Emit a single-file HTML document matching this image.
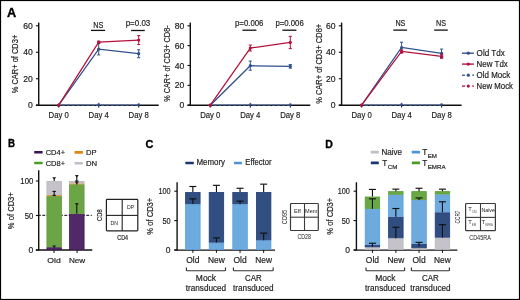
<!DOCTYPE html>
<html><head><meta charset="utf-8"><style>
html,body{margin:0;padding:0;background:#fff;}
body{width:520px;height:300px;overflow:hidden;}
svg{display:block;font-family:"Liberation Sans", sans-serif;will-change:transform;}
</style></head><body>
<svg width="520" height="300" viewBox="0 0 520 300">
<rect x="0" y="0" width="520" height="300" fill="#fff"/>
<text x="11.6" y="16.6" font-size="12" text-anchor="middle" fill="#000" font-weight="bold" textLength="9.2" lengthAdjust="spacingAndGlyphs" stroke="#000" stroke-width="0.35" stroke-linejoin="round">A</text>
<text transform="translate(18.0,64.0) rotate(-90)" x="0" y="0" font-size="8.6" text-anchor="middle" fill="#222" stroke="#222" stroke-width="0.18" textLength="58.5" lengthAdjust="spacingAndGlyphs">% CAR+ of CD3+</text>
<line x1="38.7" y1="22.6" x2="38.7" y2="105.9" stroke="#111" stroke-width="1.45" />
<line x1="35.900000000000006" y1="105.2" x2="158.7" y2="105.2" stroke="#111" stroke-width="1.45" />
<line x1="35.900000000000006" y1="105.2" x2="38.7" y2="105.2" stroke="#111" stroke-width="1.1" />
<text x="32.7" y="108.2" font-size="8.6" text-anchor="end" fill="#222" font-weight="normal" stroke="#222" stroke-width="0.18" stroke-linejoin="round">0</text>
<line x1="35.900000000000006" y1="78.73333333333333" x2="38.7" y2="78.73333333333333" stroke="#111" stroke-width="1.1" />
<text x="32.7" y="81.73333333333333" font-size="8.6" text-anchor="end" fill="#222" font-weight="normal" stroke="#222" stroke-width="0.18" stroke-linejoin="round">20</text>
<line x1="35.900000000000006" y1="52.266666666666666" x2="38.7" y2="52.266666666666666" stroke="#111" stroke-width="1.1" />
<text x="32.7" y="55.266666666666666" font-size="8.6" text-anchor="end" fill="#222" font-weight="normal" stroke="#222" stroke-width="0.18" stroke-linejoin="round">40</text>
<line x1="35.900000000000006" y1="25.799999999999997" x2="38.7" y2="25.799999999999997" stroke="#111" stroke-width="1.1" />
<text x="32.7" y="28.799999999999997" font-size="8.6" text-anchor="end" fill="#222" font-weight="normal" stroke="#222" stroke-width="0.18" stroke-linejoin="round">60</text>
<line x1="58.7" y1="105.2" x2="58.7" y2="107.60000000000001" stroke="#111" stroke-width="1.1" />
<text x="58.7" y="117.7" font-size="8.8" text-anchor="middle" fill="#222" font-weight="normal" textLength="20.2" lengthAdjust="spacingAndGlyphs" stroke="#222" stroke-width="0.18" stroke-linejoin="round">Day 0</text>
<line x1="98.7" y1="105.2" x2="98.7" y2="107.60000000000001" stroke="#111" stroke-width="1.1" />
<text x="98.7" y="117.7" font-size="8.8" text-anchor="middle" fill="#222" font-weight="normal" textLength="20.2" lengthAdjust="spacingAndGlyphs" stroke="#222" stroke-width="0.18" stroke-linejoin="round">Day 4</text>
<line x1="138.7" y1="105.2" x2="138.7" y2="107.60000000000001" stroke="#111" stroke-width="1.1" />
<text x="138.7" y="117.7" font-size="8.8" text-anchor="middle" fill="#222" font-weight="normal" textLength="20.2" lengthAdjust="spacingAndGlyphs" stroke="#222" stroke-width="0.18" stroke-linejoin="round">Day 8</text>
<line x1="61.7" y1="105.10000000000001" x2="138.7" y2="105.10000000000001" stroke="#3f63a6" stroke-width="1.1" stroke-dasharray="3.3,1.6"/>
<circle cx="98.7" cy="104.60000000000001" r="1.3" fill="#30508d"/>
<circle cx="138.7" cy="104.60000000000001" r="1.3" fill="#30508d"/>
<line x1="98.7" y1="102.8" x2="98.7" y2="105.2" stroke="#30508d" stroke-width="0.9" />
<polyline points="58.7,105.20 98.7,49.22 138.7,53.72" fill="none" stroke="#30508d" stroke-width="1.25"/>
<circle cx="58.7" cy="105.20" r="1.6" fill="#30508d"/>
<line x1="98.7" y1="43.53266666666667" x2="98.7" y2="54.913333333333334" stroke="#30508d" stroke-width="1.0" />
<line x1="97.10000000000001" y1="43.53266666666667" x2="100.3" y2="43.53266666666667" stroke="#30508d" stroke-width="1.0" />
<line x1="97.10000000000001" y1="54.913333333333334" x2="100.3" y2="54.913333333333334" stroke="#30508d" stroke-width="1.0" />
<circle cx="98.7" cy="49.22" r="1.6" fill="#30508d"/>
<line x1="138.7" y1="49.75233333333333" x2="138.7" y2="57.69233333333333" stroke="#30508d" stroke-width="1.0" />
<line x1="137.1" y1="49.75233333333333" x2="140.29999999999998" y2="49.75233333333333" stroke="#30508d" stroke-width="1.0" />
<line x1="137.1" y1="57.69233333333333" x2="140.29999999999998" y2="57.69233333333333" stroke="#30508d" stroke-width="1.0" />
<circle cx="138.7" cy="53.72" r="1.6" fill="#30508d"/>
<polyline points="58.7,105.20 98.7,42.21 138.7,40.09" fill="none" stroke="#b3123d" stroke-width="1.25"/>
<circle cx="58.7" cy="105.20" r="1.6" fill="#b3123d"/>
<line x1="98.7" y1="41.150666666666666" x2="98.7" y2="43.267999999999994" stroke="#b3123d" stroke-width="1.0" />
<line x1="97.10000000000001" y1="41.150666666666666" x2="100.3" y2="41.150666666666666" stroke="#b3123d" stroke-width="1.0" />
<line x1="97.10000000000001" y1="43.267999999999994" x2="100.3" y2="43.267999999999994" stroke="#b3123d" stroke-width="1.0" />
<circle cx="98.7" cy="42.21" r="1.6" fill="#b3123d"/>
<line x1="138.7" y1="35.59266666666666" x2="138.7" y2="44.591333333333324" stroke="#b3123d" stroke-width="1.0" />
<line x1="137.1" y1="35.59266666666666" x2="140.29999999999998" y2="35.59266666666666" stroke="#b3123d" stroke-width="1.0" />
<line x1="137.1" y1="44.591333333333324" x2="140.29999999999998" y2="44.591333333333324" stroke="#b3123d" stroke-width="1.0" />
<circle cx="138.7" cy="40.09" r="1.6" fill="#b3123d"/>
<text x="98.4" y="28.0" font-size="8.4" text-anchor="middle" fill="#222" font-weight="normal" textLength="10.2" lengthAdjust="spacingAndGlyphs" stroke="#222" stroke-width="0.18" stroke-linejoin="round">NS</text>
<line x1="91.0" y1="30.4" x2="105.1" y2="30.4" stroke="#111" stroke-width="1.3" />
<text x="138.0" y="25.8" font-size="8.4" text-anchor="middle" fill="#222" font-weight="normal" textLength="24.6" lengthAdjust="spacingAndGlyphs" stroke="#222" stroke-width="0.18" stroke-linejoin="round">p=0.03</text>
<line x1="131.1" y1="30.5" x2="144.8" y2="30.5" stroke="#111" stroke-width="1.3" />
<text transform="translate(170.0,63.6) rotate(-90)" x="0" y="0" font-size="8.6" text-anchor="middle" fill="#222" stroke="#222" stroke-width="0.18" textLength="76.5" lengthAdjust="spacingAndGlyphs">% CAR+ of CD3+ CD8-</text>
<line x1="190.3" y1="22.6" x2="190.3" y2="105.9" stroke="#111" stroke-width="1.45" />
<line x1="187.5" y1="105.2" x2="310.3" y2="105.2" stroke="#111" stroke-width="1.45" />
<line x1="187.5" y1="105.2" x2="190.3" y2="105.2" stroke="#111" stroke-width="1.1" />
<text x="184.3" y="108.2" font-size="8.6" text-anchor="end" fill="#222" font-weight="normal" stroke="#222" stroke-width="0.18" stroke-linejoin="round">0</text>
<line x1="187.5" y1="85.35" x2="190.3" y2="85.35" stroke="#111" stroke-width="1.1" />
<text x="184.3" y="88.35" font-size="8.6" text-anchor="end" fill="#222" font-weight="normal" stroke="#222" stroke-width="0.18" stroke-linejoin="round">20</text>
<line x1="187.5" y1="65.5" x2="190.3" y2="65.5" stroke="#111" stroke-width="1.1" />
<text x="184.3" y="68.5" font-size="8.6" text-anchor="end" fill="#222" font-weight="normal" stroke="#222" stroke-width="0.18" stroke-linejoin="round">40</text>
<line x1="187.5" y1="45.65" x2="190.3" y2="45.65" stroke="#111" stroke-width="1.1" />
<text x="184.3" y="48.65" font-size="8.6" text-anchor="end" fill="#222" font-weight="normal" stroke="#222" stroke-width="0.18" stroke-linejoin="round">60</text>
<line x1="187.5" y1="25.799999999999997" x2="190.3" y2="25.799999999999997" stroke="#111" stroke-width="1.1" />
<text x="184.3" y="28.799999999999997" font-size="8.6" text-anchor="end" fill="#222" font-weight="normal" stroke="#222" stroke-width="0.18" stroke-linejoin="round">80</text>
<line x1="210.3" y1="105.2" x2="210.3" y2="107.60000000000001" stroke="#111" stroke-width="1.1" />
<text x="210.3" y="117.7" font-size="8.8" text-anchor="middle" fill="#222" font-weight="normal" textLength="20.2" lengthAdjust="spacingAndGlyphs" stroke="#222" stroke-width="0.18" stroke-linejoin="round">Day 0</text>
<line x1="250.3" y1="105.2" x2="250.3" y2="107.60000000000001" stroke="#111" stroke-width="1.1" />
<text x="250.3" y="117.7" font-size="8.8" text-anchor="middle" fill="#222" font-weight="normal" textLength="20.2" lengthAdjust="spacingAndGlyphs" stroke="#222" stroke-width="0.18" stroke-linejoin="round">Day 4</text>
<line x1="290.3" y1="105.2" x2="290.3" y2="107.60000000000001" stroke="#111" stroke-width="1.1" />
<text x="290.3" y="117.7" font-size="8.8" text-anchor="middle" fill="#222" font-weight="normal" textLength="20.2" lengthAdjust="spacingAndGlyphs" stroke="#222" stroke-width="0.18" stroke-linejoin="round">Day 8</text>
<line x1="213.3" y1="105.10000000000001" x2="290.3" y2="105.10000000000001" stroke="#3f63a6" stroke-width="1.1" stroke-dasharray="3.3,1.6"/>
<circle cx="250.3" cy="104.60000000000001" r="1.3" fill="#30508d"/>
<circle cx="290.3" cy="104.60000000000001" r="1.3" fill="#30508d"/>
<line x1="250.3" y1="102.8" x2="250.3" y2="105.2" stroke="#30508d" stroke-width="0.9" />
<polyline points="210.3,105.20 250.3,65.70 290.3,66.39" fill="none" stroke="#30508d" stroke-width="1.25"/>
<circle cx="210.3" cy="105.20" r="1.6" fill="#30508d"/>
<line x1="250.3" y1="61.133" x2="250.3" y2="70.26400000000001" stroke="#30508d" stroke-width="1.0" />
<line x1="248.70000000000002" y1="61.133" x2="251.9" y2="61.133" stroke="#30508d" stroke-width="1.0" />
<line x1="248.70000000000002" y1="70.26400000000001" x2="251.9" y2="70.26400000000001" stroke="#30508d" stroke-width="1.0" />
<circle cx="250.3" cy="65.70" r="1.6" fill="#30508d"/>
<line x1="290.3" y1="64.60675" x2="290.3" y2="68.17975" stroke="#30508d" stroke-width="1.0" />
<line x1="288.7" y1="64.60675" x2="291.90000000000003" y2="64.60675" stroke="#30508d" stroke-width="1.0" />
<line x1="288.7" y1="68.17975" x2="291.90000000000003" y2="68.17975" stroke="#30508d" stroke-width="1.0" />
<circle cx="290.3" cy="66.39" r="1.6" fill="#30508d"/>
<polyline points="210.3,105.20 250.3,48.03 290.3,42.47" fill="none" stroke="#b3123d" stroke-width="1.25"/>
<circle cx="210.3" cy="105.20" r="1.6" fill="#b3123d"/>
<line x1="250.3" y1="45.0545" x2="250.3" y2="51.009499999999996" stroke="#b3123d" stroke-width="1.0" />
<line x1="248.70000000000002" y1="45.0545" x2="251.9" y2="45.0545" stroke="#b3123d" stroke-width="1.0" />
<line x1="248.70000000000002" y1="51.009499999999996" x2="251.9" y2="51.009499999999996" stroke="#b3123d" stroke-width="1.0" />
<circle cx="250.3" cy="48.03" r="1.6" fill="#b3123d"/>
<line x1="290.3" y1="36.320499999999996" x2="290.3" y2="48.6275" stroke="#b3123d" stroke-width="1.0" />
<line x1="288.7" y1="36.320499999999996" x2="291.90000000000003" y2="36.320499999999996" stroke="#b3123d" stroke-width="1.0" />
<line x1="288.7" y1="48.6275" x2="291.90000000000003" y2="48.6275" stroke="#b3123d" stroke-width="1.0" />
<circle cx="290.3" cy="42.47" r="1.6" fill="#b3123d"/>
<text x="249.2" y="25.8" font-size="8.4" text-anchor="middle" fill="#222" font-weight="normal" textLength="28.4" lengthAdjust="spacingAndGlyphs" stroke="#222" stroke-width="0.18" stroke-linejoin="round">p=0.006</text>
<line x1="242.4" y1="30.2" x2="256.4" y2="30.2" stroke="#111" stroke-width="1.3" />
<text x="289.6" y="25.8" font-size="8.4" text-anchor="middle" fill="#222" font-weight="normal" textLength="28.4" lengthAdjust="spacingAndGlyphs" stroke="#222" stroke-width="0.18" stroke-linejoin="round">p=0.006</text>
<line x1="282.4" y1="30.2" x2="296.4" y2="30.2" stroke="#111" stroke-width="1.3" />
<text transform="translate(321.6,63.8) rotate(-90)" x="0" y="0" font-size="8.6" text-anchor="middle" fill="#222" stroke="#222" stroke-width="0.18" textLength="80" lengthAdjust="spacingAndGlyphs">% CAR+ of CD3+ CD8+</text>
<line x1="341.6" y1="22.6" x2="341.6" y2="105.9" stroke="#111" stroke-width="1.45" />
<line x1="338.8" y1="105.2" x2="461.6" y2="105.2" stroke="#111" stroke-width="1.45" />
<line x1="338.8" y1="105.2" x2="341.6" y2="105.2" stroke="#111" stroke-width="1.1" />
<text x="335.6" y="108.2" font-size="8.6" text-anchor="end" fill="#222" font-weight="normal" stroke="#222" stroke-width="0.18" stroke-linejoin="round">0</text>
<line x1="338.8" y1="78.73333333333333" x2="341.6" y2="78.73333333333333" stroke="#111" stroke-width="1.1" />
<text x="335.6" y="81.73333333333333" font-size="8.6" text-anchor="end" fill="#222" font-weight="normal" stroke="#222" stroke-width="0.18" stroke-linejoin="round">20</text>
<line x1="338.8" y1="52.266666666666666" x2="341.6" y2="52.266666666666666" stroke="#111" stroke-width="1.1" />
<text x="335.6" y="55.266666666666666" font-size="8.6" text-anchor="end" fill="#222" font-weight="normal" stroke="#222" stroke-width="0.18" stroke-linejoin="round">40</text>
<line x1="338.8" y1="25.799999999999997" x2="341.6" y2="25.799999999999997" stroke="#111" stroke-width="1.1" />
<text x="335.6" y="28.799999999999997" font-size="8.6" text-anchor="end" fill="#222" font-weight="normal" stroke="#222" stroke-width="0.18" stroke-linejoin="round">60</text>
<line x1="361.6" y1="105.2" x2="361.6" y2="107.60000000000001" stroke="#111" stroke-width="1.1" />
<text x="361.6" y="117.7" font-size="8.8" text-anchor="middle" fill="#222" font-weight="normal" textLength="20.2" lengthAdjust="spacingAndGlyphs" stroke="#222" stroke-width="0.18" stroke-linejoin="round">Day 0</text>
<line x1="401.6" y1="105.2" x2="401.6" y2="107.60000000000001" stroke="#111" stroke-width="1.1" />
<text x="401.6" y="117.7" font-size="8.8" text-anchor="middle" fill="#222" font-weight="normal" textLength="20.2" lengthAdjust="spacingAndGlyphs" stroke="#222" stroke-width="0.18" stroke-linejoin="round">Day 4</text>
<line x1="441.6" y1="105.2" x2="441.6" y2="107.60000000000001" stroke="#111" stroke-width="1.1" />
<text x="441.6" y="117.7" font-size="8.8" text-anchor="middle" fill="#222" font-weight="normal" textLength="20.2" lengthAdjust="spacingAndGlyphs" stroke="#222" stroke-width="0.18" stroke-linejoin="round">Day 8</text>
<line x1="364.6" y1="105.10000000000001" x2="441.6" y2="105.10000000000001" stroke="#3f63a6" stroke-width="1.1" stroke-dasharray="3.3,1.6"/>
<circle cx="401.6" cy="104.60000000000001" r="1.3" fill="#30508d"/>
<circle cx="441.6" cy="104.60000000000001" r="1.3" fill="#30508d"/>
<line x1="401.6" y1="102.8" x2="401.6" y2="105.2" stroke="#30508d" stroke-width="0.9" />
<polyline points="361.6,105.20 401.6,47.50 441.6,53.33" fill="none" stroke="#30508d" stroke-width="1.25"/>
<circle cx="361.6" cy="105.20" r="1.6" fill="#30508d"/>
<line x1="401.6" y1="42.209333333333326" x2="401.6" y2="52.79599999999999" stroke="#30508d" stroke-width="1.0" />
<line x1="400.0" y1="42.209333333333326" x2="403.20000000000005" y2="42.209333333333326" stroke="#30508d" stroke-width="1.0" />
<line x1="400.0" y1="52.79599999999999" x2="403.20000000000005" y2="52.79599999999999" stroke="#30508d" stroke-width="1.0" />
<circle cx="401.6" cy="47.50" r="1.6" fill="#30508d"/>
<line x1="441.6" y1="49.09066666666666" x2="441.6" y2="57.559999999999995" stroke="#30508d" stroke-width="1.0" />
<line x1="440.0" y1="49.09066666666666" x2="443.20000000000005" y2="49.09066666666666" stroke="#30508d" stroke-width="1.0" />
<line x1="440.0" y1="57.559999999999995" x2="443.20000000000005" y2="57.559999999999995" stroke="#30508d" stroke-width="1.0" />
<circle cx="441.6" cy="53.33" r="1.6" fill="#30508d"/>
<polyline points="361.6,105.20 401.6,51.47 441.6,56.37" fill="none" stroke="#b3123d" stroke-width="1.25"/>
<circle cx="361.6" cy="105.20" r="1.6" fill="#b3123d"/>
<line x1="401.6" y1="49.88466666666666" x2="401.6" y2="53.06066666666666" stroke="#b3123d" stroke-width="1.0" />
<line x1="400.0" y1="49.88466666666666" x2="403.20000000000005" y2="49.88466666666666" stroke="#b3123d" stroke-width="1.0" />
<line x1="400.0" y1="53.06066666666666" x2="403.20000000000005" y2="53.06066666666666" stroke="#b3123d" stroke-width="1.0" />
<circle cx="401.6" cy="51.47" r="1.6" fill="#b3123d"/>
<line x1="441.6" y1="54.384" x2="441.6" y2="58.354" stroke="#b3123d" stroke-width="1.0" />
<line x1="440.0" y1="54.384" x2="443.20000000000005" y2="54.384" stroke="#b3123d" stroke-width="1.0" />
<line x1="440.0" y1="58.354" x2="443.20000000000005" y2="58.354" stroke="#b3123d" stroke-width="1.0" />
<circle cx="441.6" cy="56.37" r="1.6" fill="#b3123d"/>
<text x="400.4" y="25.6" font-size="8.4" text-anchor="middle" fill="#222" font-weight="normal" textLength="10.0" lengthAdjust="spacingAndGlyphs" stroke="#222" stroke-width="0.18" stroke-linejoin="round">NS</text>
<line x1="393.3" y1="30.1" x2="407.1" y2="30.1" stroke="#111" stroke-width="1.3" />
<text x="441.0" y="25.6" font-size="8.4" text-anchor="middle" fill="#222" font-weight="normal" textLength="10.0" lengthAdjust="spacingAndGlyphs" stroke="#222" stroke-width="0.18" stroke-linejoin="round">NS</text>
<line x1="434.2" y1="30.1" x2="447.8" y2="30.1" stroke="#111" stroke-width="1.3" />
<line x1="462" y1="53.2" x2="473.8" y2="53.2" stroke="#30508d" stroke-width="1.4" />
<circle cx="468.3" cy="53.2" r="1.6" fill="#30508d"/>
<text x="476.6" y="55.800000000000004" font-size="8.4" text-anchor="start" fill="#222" font-weight="normal" textLength="28.2" lengthAdjust="spacingAndGlyphs" stroke="#222" stroke-width="0.18" stroke-linejoin="round">Old Tdx</text>
<line x1="462" y1="64.1" x2="473.8" y2="64.1" stroke="#b3123d" stroke-width="1.4" />
<circle cx="468.3" cy="64.1" r="1.6" fill="#b3123d"/>
<text x="476.6" y="66.69999999999999" font-size="8.4" text-anchor="start" fill="#222" font-weight="normal" textLength="31.2" lengthAdjust="spacingAndGlyphs" stroke="#222" stroke-width="0.18" stroke-linejoin="round">New Tdx</text>
<line x1="462" y1="75.2" x2="465" y2="75.2" stroke="#30508d" stroke-width="1.3" />
<line x1="472.2" y1="75.2" x2="474" y2="75.2" stroke="#30508d" stroke-width="1.3" />
<circle cx="468.3" cy="75.2" r="1.6" fill="#30508d"/>
<text x="476.6" y="77.8" font-size="8.4" text-anchor="start" fill="#222" font-weight="normal" textLength="33.6" lengthAdjust="spacingAndGlyphs" stroke="#222" stroke-width="0.18" stroke-linejoin="round">Old Mock</text>
<line x1="462" y1="86.1" x2="465" y2="86.1" stroke="#b3123d" stroke-width="1.3" />
<line x1="472.2" y1="86.1" x2="474" y2="86.1" stroke="#b3123d" stroke-width="1.3" />
<circle cx="468.3" cy="86.1" r="1.6" fill="#b3123d"/>
<text x="476.6" y="88.69999999999999" font-size="8.4" text-anchor="start" fill="#222" font-weight="normal" textLength="36.4" lengthAdjust="spacingAndGlyphs" stroke="#222" stroke-width="0.18" stroke-linejoin="round">New Mock</text>
<text x="11.4" y="147.3" font-size="11" text-anchor="middle" fill="#000" font-weight="bold" textLength="7.0" lengthAdjust="spacingAndGlyphs" stroke="#000" stroke-width="0.35" stroke-linejoin="round">B</text>
<rect x="34.2" y="150.89999999999998" width="8.4" height="2.6" rx="0.5" fill="#3d1252"/>
<text x="45.7" y="154.7" font-size="7.9" text-anchor="start" fill="#222" font-weight="normal" textLength="19.4" lengthAdjust="spacingAndGlyphs" stroke="#222" stroke-width="0.18" stroke-linejoin="round">CD4+</text>
<rect x="74.5" y="151.1" width="8.4" height="2.6" rx="0.5" fill="#e0860e"/>
<text x="86.0" y="154.9" font-size="7.9" text-anchor="start" fill="#222" font-weight="normal" textLength="10.6" lengthAdjust="spacingAndGlyphs" stroke="#222" stroke-width="0.18" stroke-linejoin="round">DP</text>
<rect x="34.2" y="161.7" width="8.4" height="2.6" rx="0.5" fill="#4c9b24"/>
<text x="45.7" y="165.5" font-size="7.9" text-anchor="start" fill="#222" font-weight="normal" textLength="19.4" lengthAdjust="spacingAndGlyphs" stroke="#222" stroke-width="0.18" stroke-linejoin="round">CD8+</text>
<rect x="74.5" y="161.89999999999998" width="8.4" height="2.6" rx="0.5" fill="#c0bfc8"/>
<text x="86.0" y="165.7" font-size="7.9" text-anchor="start" fill="#222" font-weight="normal" textLength="11.2" lengthAdjust="spacingAndGlyphs" stroke="#222" stroke-width="0.18" stroke-linejoin="round">DN</text>
<text transform="translate(14.4,210.7) rotate(-90)" x="0" y="0" font-size="9.2" text-anchor="middle" fill="#222" stroke="#222" stroke-width="0.18" textLength="37.0" lengthAdjust="spacingAndGlyphs">% of CD3+</text>
<line x1="38.7" y1="215.4" x2="91.8" y2="215.4" stroke="#333" stroke-width="1.15" stroke-dasharray="2.9,1.5" stroke-dashoffset="0.8"/>
<line x1="38.7" y1="170.2" x2="38.7" y2="250.6" stroke="#111" stroke-width="1.4" />
<line x1="35.9" y1="250.0" x2="92.3" y2="250.0" stroke="#111" stroke-width="1.3" />
<line x1="35.900000000000006" y1="250.0" x2="38.7" y2="250.0" stroke="#111" stroke-width="1.1" />
<text x="33.300000000000004" y="253.0" font-size="8.6" text-anchor="end" fill="#222" font-weight="normal" stroke="#222" stroke-width="0.18" stroke-linejoin="round">0</text>
<line x1="35.900000000000006" y1="215.5" x2="38.7" y2="215.5" stroke="#111" stroke-width="1.1" />
<text x="33.300000000000004" y="218.5" font-size="8.6" text-anchor="end" fill="#222" font-weight="normal" textLength="8.6" lengthAdjust="spacingAndGlyphs" stroke="#222" stroke-width="0.18" stroke-linejoin="round">50</text>
<line x1="35.900000000000006" y1="181.0" x2="38.7" y2="181.0" stroke="#111" stroke-width="1.1" />
<text x="33.300000000000004" y="184.0" font-size="8.6" text-anchor="end" fill="#222" font-weight="normal" textLength="13.0" lengthAdjust="spacingAndGlyphs" stroke="#222" stroke-width="0.18" stroke-linejoin="round">100</text>
<rect x="46.9" y="247.64" width="14.6" height="1.96" fill="#502966" stroke="#44185d" stroke-width="0.8"/>
<rect x="46.9" y="196.44" width="14.6" height="50.40" fill="#6ba545" stroke="#5c9d36" stroke-width="0.8"/>
<rect x="46.5" y="195.08" width="15.4" height="0.97" fill="#e48f26"/>
<rect x="46.9" y="181.40" width="14.6" height="13.28" fill="#c5c3c9" stroke="#b9b7bf" stroke-width="0.8"/>
<rect x="69.5" y="214.18" width="14.6" height="35.42" fill="#502966" stroke="#44185d" stroke-width="0.8"/>
<rect x="69.5" y="184.71" width="14.6" height="28.66" fill="#6ba545" stroke="#5c9d36" stroke-width="0.8"/>
<rect x="69.1" y="183.35" width="15.4" height="0.97" fill="#e48f26"/>
<rect x="69.5" y="181.40" width="14.6" height="1.55" fill="#c5c3c9" stroke="#b9b7bf" stroke-width="0.8"/>
<path d="M52.2,177.2 L56.2,177.2 L54.2,179.79999999999998 Z" fill="#222"/>
<line x1="54.2" y1="178" x2="54.2" y2="181" stroke="#111" stroke-width="1" />
<line x1="54.2" y1="191.4" x2="54.2" y2="195.5" stroke="#111" stroke-width="1.1" />
<line x1="52.5" y1="191.4" x2="55.9" y2="191.4" stroke="#111" stroke-width="1.1" />
<line x1="52.5" y1="195.4" x2="55.9" y2="195.4" stroke="#111" stroke-width="1.1" />
<path d="M52.2,245.6 L56.2,245.6 L54.2,248.2 Z" fill="#222"/>
<path d="M74.8,175.0 L78.8,175.0 L76.8,177.6 Z" fill="#222"/>
<line x1="76.8" y1="176" x2="76.8" y2="184.5" stroke="#111" stroke-width="1.1" />
<line x1="75" y1="181" x2="78.6" y2="181" stroke="#111" stroke-width="1.0" />
<path d="M74.8,181.7 L78.8,181.7 L76.8,184.29999999999998 Z" fill="#222"/>
<line x1="76.8" y1="203.8" x2="76.8" y2="213.8" stroke="#111" stroke-width="1.1" />
<line x1="75.1" y1="203.8" x2="78.5" y2="203.8" stroke="#111" stroke-width="1.1" />
<line x1="54.0" y1="250.0" x2="54.0" y2="253.0" stroke="#111" stroke-width="1.0" />
<text x="54.0" y="262.9" font-size="8.0" text-anchor="middle" fill="#222" font-weight="normal" textLength="13.4" lengthAdjust="spacingAndGlyphs" stroke="#222" stroke-width="0.18" stroke-linejoin="round">Old</text>
<line x1="77.1" y1="250.0" x2="77.1" y2="253.0" stroke="#111" stroke-width="1.0" />
<text x="77.1" y="262.9" font-size="8.0" text-anchor="middle" fill="#222" font-weight="normal" textLength="16.4" lengthAdjust="spacingAndGlyphs" stroke="#222" stroke-width="0.18" stroke-linejoin="round">New</text>
<rect x="106.4" y="199.4" width="31.4" height="31.4" rx="0.8" fill="none" stroke="#222" stroke-width="1.2"/>
<line x1="122.2" y1="199.4" x2="122.2" y2="230.8" stroke="#222" stroke-width="1.1" />
<line x1="106.4" y1="215.4" x2="137.8" y2="215.4" stroke="#222" stroke-width="1.1" />
<text x="130.6" y="209.1" font-size="5.6" text-anchor="middle" fill="#222" font-weight="normal" textLength="7.2" lengthAdjust="spacingAndGlyphs">DP</text>
<text x="114.2" y="225.0" font-size="5.6" text-anchor="middle" fill="#222" font-weight="normal" textLength="7.6" lengthAdjust="spacingAndGlyphs">DN</text>
<text transform="translate(102.0,215.1) rotate(-90)" x="0" y="0" font-size="7.6" text-anchor="middle" fill="#222" stroke="#222" stroke-width="0.18" textLength="11.6" lengthAdjust="spacingAndGlyphs">CD8</text>
<text x="122.7" y="240.2" font-size="7.2" text-anchor="middle" fill="#222" font-weight="normal" textLength="10.8" lengthAdjust="spacingAndGlyphs" stroke="#222" stroke-width="0.18" stroke-linejoin="round">CD4</text>
<text x="149.5" y="147.6" font-size="11.6" text-anchor="middle" fill="#000" font-weight="bold" textLength="7.9" lengthAdjust="spacingAndGlyphs" stroke="#000" stroke-width="0.35" stroke-linejoin="round">C</text>
<rect x="185.4" y="161.7" width="8.4" height="2.6" rx="0.5" fill="#1a3572"/>
<text x="196.4" y="165.3" font-size="8.2" text-anchor="start" fill="#222" font-weight="normal" textLength="28.6" lengthAdjust="spacingAndGlyphs" stroke="#222" stroke-width="0.18" stroke-linejoin="round">Memory</text>
<rect x="234.0" y="161.7" width="8.0" height="2.6" rx="0.5" fill="#4d93d9"/>
<text x="245.3" y="165.3" font-size="8.2" text-anchor="start" fill="#222" font-weight="normal" textLength="26.2" lengthAdjust="spacingAndGlyphs" stroke="#222" stroke-width="0.18" stroke-linejoin="round">Effector</text>
<text transform="translate(153.0,216.2) rotate(-90)" x="0" y="0" font-size="9.2" text-anchor="middle" fill="#222" stroke="#222" stroke-width="0.18" textLength="37.0" lengthAdjust="spacingAndGlyphs">% of CD3+</text>
<line x1="177.1" y1="182.3" x2="177.1" y2="250.5" stroke="#111" stroke-width="1.4" />
<line x1="174.29999999999998" y1="250.1" x2="275" y2="250.1" stroke="#111" stroke-width="1.15" />
<line x1="174.29999999999998" y1="249.9" x2="177.1" y2="249.9" stroke="#111" stroke-width="1.1" />
<text x="170.6" y="252.9" font-size="8.5" text-anchor="end" fill="#222" font-weight="normal" stroke="#222" stroke-width="0.18" stroke-linejoin="round">0</text>
<line x1="174.29999999999998" y1="220.55" x2="177.1" y2="220.55" stroke="#111" stroke-width="1.1" />
<text x="170.6" y="223.55" font-size="8.5" text-anchor="end" fill="#222" font-weight="normal" textLength="8.2" lengthAdjust="spacingAndGlyphs" stroke="#222" stroke-width="0.18" stroke-linejoin="round">50</text>
<line x1="174.29999999999998" y1="191.20000000000002" x2="177.1" y2="191.20000000000002" stroke="#111" stroke-width="1.1" />
<text x="170.6" y="194.20000000000002" font-size="8.5" text-anchor="end" fill="#222" font-weight="normal" textLength="12.2" lengthAdjust="spacingAndGlyphs" stroke="#222" stroke-width="0.18" stroke-linejoin="round">100</text>
<rect x="185.6" y="204.51" width="14.5" height="44.99" fill="#6daade" stroke="#5c9fdc" stroke-width="0.8"/>
<rect x="185.6" y="192.48" width="14.5" height="11.23" fill="#304e80" stroke="#203c76" stroke-width="0.8"/>
<rect x="209.20000000000002" y="242.96" width="14.5" height="6.54" fill="#6daade" stroke="#5c9fdc" stroke-width="0.8"/>
<rect x="209.20000000000002" y="192.48" width="14.5" height="49.68" fill="#304e80" stroke="#203c76" stroke-width="0.8"/>
<rect x="232.8" y="204.51" width="14.5" height="44.99" fill="#6daade" stroke="#5c9fdc" stroke-width="0.8"/>
<rect x="232.8" y="192.48" width="14.5" height="11.23" fill="#304e80" stroke="#203c76" stroke-width="0.8"/>
<rect x="256.4" y="240.61" width="14.5" height="8.89" fill="#6daade" stroke="#5c9fdc" stroke-width="0.8"/>
<rect x="256.4" y="192.48" width="14.5" height="47.33" fill="#304e80" stroke="#203c76" stroke-width="0.8"/>
<line x1="192.85" y1="186.50400000000002" x2="192.85" y2="192.0805" stroke="#111" stroke-width="1.15" />
<line x1="189.35" y1="186.50400000000002" x2="196.35" y2="186.50400000000002" stroke="#111" stroke-width="1.15" />
<line x1="192.85" y1="198.83100000000002" x2="192.85" y2="204.114" stroke="#111" stroke-width="1.15" />
<line x1="189.35" y1="198.83100000000002" x2="196.35" y2="198.83100000000002" stroke="#111" stroke-width="1.15" />
<line x1="216.45000000000002" y1="185.33" x2="216.45000000000002" y2="192.0805" stroke="#111" stroke-width="1.15" />
<line x1="212.95000000000002" y1="185.33" x2="219.95000000000002" y2="185.33" stroke="#111" stroke-width="1.15" />
<line x1="216.45000000000002" y1="237.8665" x2="216.45000000000002" y2="242.5625" stroke="#111" stroke-width="1.15" />
<line x1="212.95000000000002" y1="237.8665" x2="219.95000000000002" y2="237.8665" stroke="#111" stroke-width="1.15" />
<line x1="240.05" y1="188.26500000000001" x2="240.05" y2="192.0805" stroke="#111" stroke-width="1.15" />
<line x1="236.55" y1="188.26500000000001" x2="243.55" y2="188.26500000000001" stroke="#111" stroke-width="1.15" />
<line x1="240.05" y1="201.179" x2="240.05" y2="204.114" stroke="#111" stroke-width="1.15" />
<line x1="236.55" y1="201.179" x2="243.55" y2="201.179" stroke="#111" stroke-width="1.15" />
<line x1="263.65" y1="184.156" x2="263.65" y2="192.0805" stroke="#111" stroke-width="1.15" />
<line x1="260.15" y1="184.156" x2="267.15" y2="184.156" stroke="#111" stroke-width="1.15" />
<line x1="263.65" y1="233.1705" x2="263.65" y2="240.21450000000002" stroke="#111" stroke-width="1.15" />
<line x1="260.15" y1="233.1705" x2="267.15" y2="233.1705" stroke="#111" stroke-width="1.15" />
<line x1="192.85" y1="249.9" x2="192.85" y2="252.9" stroke="#111" stroke-width="1.0" />
<text x="192.85" y="262.8" font-size="8.4" text-anchor="middle" fill="#222" font-weight="normal" textLength="13.2" lengthAdjust="spacingAndGlyphs" stroke="#222" stroke-width="0.18" stroke-linejoin="round">Old</text>
<line x1="216.45000000000002" y1="249.9" x2="216.45000000000002" y2="252.9" stroke="#111" stroke-width="1.0" />
<text x="216.45000000000002" y="262.8" font-size="8.4" text-anchor="middle" fill="#222" font-weight="normal" textLength="16.8" lengthAdjust="spacingAndGlyphs" stroke="#222" stroke-width="0.18" stroke-linejoin="round">New</text>
<line x1="240.05" y1="249.9" x2="240.05" y2="252.9" stroke="#111" stroke-width="1.0" />
<text x="240.05" y="262.8" font-size="8.4" text-anchor="middle" fill="#222" font-weight="normal" textLength="13.2" lengthAdjust="spacingAndGlyphs" stroke="#222" stroke-width="0.18" stroke-linejoin="round">Old</text>
<line x1="263.65" y1="249.9" x2="263.65" y2="252.9" stroke="#111" stroke-width="1.0" />
<text x="263.65" y="262.8" font-size="8.4" text-anchor="middle" fill="#222" font-weight="normal" textLength="16.8" lengthAdjust="spacingAndGlyphs" stroke="#222" stroke-width="0.18" stroke-linejoin="round">New</text>
<path d="M186.4,267.6 L186.4,269.9 Q186.4,270.7 187.20000000000002,270.7 L224.7,270.7 Q225.5,270.7 225.5,269.9 L225.5,267.6" fill="none" stroke="#333" stroke-width="1.15"/>
<text x="205.95" y="281.3" font-size="8.6" text-anchor="middle" fill="#222" font-weight="normal" textLength="20.2" lengthAdjust="spacingAndGlyphs" stroke="#222" stroke-width="0.18" stroke-linejoin="round">Mock</text>
<text x="205.95" y="290.6" font-size="8.6" text-anchor="middle" fill="#222" font-weight="normal" textLength="40.4" lengthAdjust="spacingAndGlyphs" stroke="#222" stroke-width="0.18" stroke-linejoin="round">transduced</text>
<path d="M233.4,267.6 L233.4,269.9 Q233.4,270.7 234.20000000000002,270.7 L272.4,270.7 Q273.2,270.7 273.2,269.9 L273.2,267.6" fill="none" stroke="#333" stroke-width="1.15"/>
<text x="253.3" y="281.3" font-size="8.6" text-anchor="middle" fill="#222" font-weight="normal" textLength="16.8" lengthAdjust="spacingAndGlyphs" stroke="#222" stroke-width="0.18" stroke-linejoin="round">CAR</text>
<text x="253.3" y="290.6" font-size="8.6" text-anchor="middle" fill="#222" font-weight="normal" textLength="40.4" lengthAdjust="spacingAndGlyphs" stroke="#222" stroke-width="0.18" stroke-linejoin="round">transduced</text>
<rect x="290.5" y="203.5" width="27.8" height="27" rx="0.8" fill="none" stroke="#3a3a3a" stroke-width="1.2"/>
<line x1="304.5" y1="203.5" x2="304.5" y2="230.5" stroke="#3a3a3a" stroke-width="1.1" />
<line x1="290.5" y1="217.2" x2="318.3" y2="217.2" stroke="#3a3a3a" stroke-width="1.1" />
<text x="297.4" y="212.8" font-size="5.4" text-anchor="middle" fill="#222" font-weight="normal" textLength="6.8" lengthAdjust="spacingAndGlyphs">Eff</text>
<text x="311.3" y="212.8" font-size="5.4" text-anchor="middle" fill="#222" font-weight="normal" textLength="12.4" lengthAdjust="spacingAndGlyphs">Mem</text>
<text transform="translate(286.7,217.0) rotate(-90)" x="0" y="0" font-size="6.6" text-anchor="middle" fill="#222" textLength="14.4" lengthAdjust="spacingAndGlyphs">CD95</text>
<text x="304.2" y="238.8" font-size="6.6" text-anchor="middle" fill="#222" font-weight="normal" textLength="13.6" lengthAdjust="spacingAndGlyphs">CD28</text>
<text x="329.1" y="147.6" font-size="11" text-anchor="middle" fill="#000" font-weight="bold" textLength="7.6" lengthAdjust="spacingAndGlyphs" stroke="#000" stroke-width="0.35" stroke-linejoin="round">D</text>
<rect x="370.8" y="150.8" width="8" height="2.6" rx="0.5" fill="#c0bfc8"/>
<text x="381.5" y="154.8" font-size="8.4" text-anchor="start" fill="#222" font-weight="normal" textLength="20.6" lengthAdjust="spacingAndGlyphs" stroke="#222" stroke-width="0.18" stroke-linejoin="round">Naive</text>
<rect x="411.8" y="150.8" width="8.2" height="2.6" rx="0.5" fill="#4d93d9"/>
<text x="422.2" y="154.8" font-size="8.2" text-anchor="start" fill="#222" font-weight="normal" stroke="#222" stroke-width="0.18" stroke-linejoin="round">T<tspan font-size="6.2" dx="0.5" dy="2.7">EM</tspan></text>
<rect x="370.8" y="161.6" width="8" height="2.6" rx="0.5" fill="#1a3572"/>
<text x="382.2" y="165.9" font-size="8.2" text-anchor="start" fill="#222" font-weight="normal" stroke="#222" stroke-width="0.18" stroke-linejoin="round">T<tspan font-size="6.2" dx="0.5" dy="2.7">CM</tspan></text>
<rect x="411.8" y="161.6" width="8.2" height="2.6" rx="0.5" fill="#4c9b24"/>
<text x="422.2" y="165.9" font-size="8.2" text-anchor="start" fill="#222" font-weight="normal" stroke="#222" stroke-width="0.18" stroke-linejoin="round">T<tspan font-size="6.2" dx="0.5" dy="2.7">EMRA</tspan></text>
<text transform="translate(333.0,216.2) rotate(-90)" x="0" y="0" font-size="9.2" text-anchor="middle" fill="#222" stroke="#222" stroke-width="0.18" textLength="37.0" lengthAdjust="spacingAndGlyphs">% of CD3+</text>
<line x1="356.4" y1="182.3" x2="356.4" y2="250.5" stroke="#111" stroke-width="1.4" />
<line x1="353.59999999999997" y1="250.1" x2="457.3" y2="250.1" stroke="#111" stroke-width="1.15" />
<line x1="353.59999999999997" y1="249.9" x2="356.4" y2="249.9" stroke="#111" stroke-width="1.1" />
<text x="349.9" y="252.9" font-size="8.5" text-anchor="end" fill="#222" font-weight="normal" stroke="#222" stroke-width="0.18" stroke-linejoin="round">0</text>
<line x1="353.59999999999997" y1="220.55" x2="356.4" y2="220.55" stroke="#111" stroke-width="1.1" />
<text x="349.9" y="223.55" font-size="8.5" text-anchor="end" fill="#222" font-weight="normal" textLength="8.2" lengthAdjust="spacingAndGlyphs" stroke="#222" stroke-width="0.18" stroke-linejoin="round">50</text>
<line x1="353.59999999999997" y1="191.20000000000002" x2="356.4" y2="191.20000000000002" stroke="#111" stroke-width="1.1" />
<text x="349.9" y="194.20000000000002" font-size="8.5" text-anchor="end" fill="#222" font-weight="normal" textLength="12.2" lengthAdjust="spacingAndGlyphs" stroke="#222" stroke-width="0.18" stroke-linejoin="round">100</text>
<rect x="365.2" y="247.60" width="14.5" height="1.90" fill="#c5c3c9" stroke="#b9b7bf" stroke-width="0.8"/>
<rect x="365.2" y="245.43" width="14.5" height="1.37" fill="#304e80" stroke="#203c76" stroke-width="0.8"/>
<rect x="365.2" y="209.21" width="14.5" height="35.42" fill="#6daade" stroke="#5c9fdc" stroke-width="0.8"/>
<rect x="365.2" y="197.00" width="14.5" height="11.41" fill="#6aa846" stroke="#5a9e38" stroke-width="0.8"/>
<rect x="388.59999999999997" y="238.56" width="14.5" height="10.94" fill="#c5c3c9" stroke="#b9b7bf" stroke-width="0.8"/>
<rect x="388.59999999999997" y="217.13" width="14.5" height="20.63" fill="#304e80" stroke="#203c76" stroke-width="0.8"/>
<rect x="388.59999999999997" y="195.12" width="14.5" height="21.21" fill="#6daade" stroke="#5c9fdc" stroke-width="0.8"/>
<rect x="388.59999999999997" y="191.60" width="14.5" height="2.72" fill="#6aa846" stroke="#5a9e38" stroke-width="0.8"/>
<rect x="411.79999999999995" y="248.54" width="14.5" height="0.96" fill="#c5c3c9" stroke="#b9b7bf" stroke-width="0.8"/>
<rect x="411.79999999999995" y="244.08" width="14.5" height="3.66" fill="#304e80" stroke="#203c76" stroke-width="0.8"/>
<rect x="411.79999999999995" y="200.41" width="14.5" height="42.87" fill="#6daade" stroke="#5c9fdc" stroke-width="0.8"/>
<rect x="411.79999999999995" y="191.60" width="14.5" height="8.00" fill="#6aa846" stroke="#5a9e38" stroke-width="0.8"/>
<rect x="435.2" y="237.97" width="14.5" height="11.53" fill="#c5c3c9" stroke="#b9b7bf" stroke-width="0.8"/>
<rect x="435.2" y="212.73" width="14.5" height="24.44" fill="#304e80" stroke="#203c76" stroke-width="0.8"/>
<rect x="435.2" y="194.83" width="14.5" height="17.10" fill="#6daade" stroke="#5c9fdc" stroke-width="0.8"/>
<rect x="435.2" y="191.60" width="14.5" height="2.43" fill="#6aa846" stroke="#5a9e38" stroke-width="0.8"/>
<line x1="372.45" y1="189.43900000000002" x2="372.45" y2="196.6004" stroke="#111" stroke-width="1.15" />
<line x1="368.95" y1="189.43900000000002" x2="375.95" y2="189.43900000000002" stroke="#111" stroke-width="1.15" />
<line x1="372.45" y1="198.83100000000002" x2="372.45" y2="208.81" stroke="#111" stroke-width="1.15" />
<line x1="368.95" y1="198.83100000000002" x2="375.95" y2="198.83100000000002" stroke="#111" stroke-width="1.15" />
<line x1="372.45" y1="243.2669" x2="372.45" y2="246.965" stroke="#111" stroke-width="1.15" />
<line x1="368.95" y1="243.2669" x2="375.95" y2="243.2669" stroke="#111" stroke-width="1.15" />
<line x1="395.84999999999997" y1="189.14550000000003" x2="395.84999999999997" y2="191.20000000000002" stroke="#111" stroke-width="1.15" />
<line x1="392.34999999999997" y1="189.14550000000003" x2="399.34999999999997" y2="189.14550000000003" stroke="#111" stroke-width="1.15" />
<line x1="395.84999999999997" y1="208.5165" x2="395.84999999999997" y2="216.7345" stroke="#111" stroke-width="1.15" />
<line x1="392.34999999999997" y1="208.5165" x2="399.34999999999997" y2="208.5165" stroke="#111" stroke-width="1.15" />
<line x1="395.84999999999997" y1="227.3005" x2="395.84999999999997" y2="238.16" stroke="#111" stroke-width="1.15" />
<line x1="392.34999999999997" y1="227.3005" x2="399.34999999999997" y2="227.3005" stroke="#111" stroke-width="1.15" />
<line x1="419.04999999999995" y1="188.26500000000001" x2="419.04999999999995" y2="191.20000000000002" stroke="#111" stroke-width="1.15" />
<line x1="415.54999999999995" y1="188.26500000000001" x2="422.54999999999995" y2="188.26500000000001" stroke="#111" stroke-width="1.15" />
<line x1="419.04999999999995" y1="197.9505" x2="419.04999999999995" y2="200.005" stroke="#111" stroke-width="1.15" />
<line x1="415.54999999999995" y1="197.9505" x2="422.54999999999995" y2="197.9505" stroke="#111" stroke-width="1.15" />
<line x1="419.04999999999995" y1="242.3864" x2="419.04999999999995" y2="246.49540000000002" stroke="#111" stroke-width="1.15" />
<line x1="415.54999999999995" y1="242.3864" x2="422.54999999999995" y2="242.3864" stroke="#111" stroke-width="1.15" />
<line x1="442.45" y1="189.14550000000003" x2="442.45" y2="191.20000000000002" stroke="#111" stroke-width="1.15" />
<line x1="438.95" y1="189.14550000000003" x2="445.95" y2="189.14550000000003" stroke="#111" stroke-width="1.15" />
<line x1="442.45" y1="201.76600000000002" x2="442.45" y2="212.332" stroke="#111" stroke-width="1.15" />
<line x1="438.95" y1="201.76600000000002" x2="445.95" y2="201.76600000000002" stroke="#111" stroke-width="1.15" />
<line x1="442.45" y1="224.659" x2="442.45" y2="237.573" stroke="#111" stroke-width="1.15" />
<line x1="438.95" y1="224.659" x2="445.95" y2="224.659" stroke="#111" stroke-width="1.15" />
<line x1="372.45" y1="249.9" x2="372.45" y2="252.9" stroke="#111" stroke-width="1.0" />
<text x="372.45" y="262.8" font-size="8.4" text-anchor="middle" fill="#222" font-weight="normal" textLength="13.2" lengthAdjust="spacingAndGlyphs" stroke="#222" stroke-width="0.18" stroke-linejoin="round">Old</text>
<line x1="395.84999999999997" y1="249.9" x2="395.84999999999997" y2="252.9" stroke="#111" stroke-width="1.0" />
<text x="395.84999999999997" y="262.8" font-size="8.4" text-anchor="middle" fill="#222" font-weight="normal" textLength="16.8" lengthAdjust="spacingAndGlyphs" stroke="#222" stroke-width="0.18" stroke-linejoin="round">New</text>
<line x1="419.04999999999995" y1="249.9" x2="419.04999999999995" y2="252.9" stroke="#111" stroke-width="1.0" />
<text x="419.04999999999995" y="262.8" font-size="8.4" text-anchor="middle" fill="#222" font-weight="normal" textLength="13.2" lengthAdjust="spacingAndGlyphs" stroke="#222" stroke-width="0.18" stroke-linejoin="round">Old</text>
<line x1="442.45" y1="249.9" x2="442.45" y2="252.9" stroke="#111" stroke-width="1.0" />
<text x="442.45" y="262.8" font-size="8.4" text-anchor="middle" fill="#222" font-weight="normal" textLength="16.8" lengthAdjust="spacingAndGlyphs" stroke="#222" stroke-width="0.18" stroke-linejoin="round">New</text>
<path d="M366,267.6 L366,269.9 Q366,270.7 366.8,270.7 L403.8,270.7 Q404.6,270.7 404.6,269.9 L404.6,267.6" fill="none" stroke="#333" stroke-width="1.15"/>
<text x="385.3" y="281.3" font-size="8.6" text-anchor="middle" fill="#222" font-weight="normal" textLength="20.2" lengthAdjust="spacingAndGlyphs" stroke="#222" stroke-width="0.18" stroke-linejoin="round">Mock</text>
<text x="385.3" y="290.6" font-size="8.6" text-anchor="middle" fill="#222" font-weight="normal" textLength="40.4" lengthAdjust="spacingAndGlyphs" stroke="#222" stroke-width="0.18" stroke-linejoin="round">transduced</text>
<path d="M411.4,267.6 L411.4,269.9 Q411.4,270.7 412.2,270.7 L448.59999999999997,270.7 Q449.4,270.7 449.4,269.9 L449.4,267.6" fill="none" stroke="#333" stroke-width="1.15"/>
<text x="430.4" y="281.3" font-size="8.6" text-anchor="middle" fill="#222" font-weight="normal" textLength="16.8" lengthAdjust="spacingAndGlyphs" stroke="#222" stroke-width="0.18" stroke-linejoin="round">CAR</text>
<text x="430.4" y="290.6" font-size="8.6" text-anchor="middle" fill="#222" font-weight="normal" textLength="40.4" lengthAdjust="spacingAndGlyphs" stroke="#222" stroke-width="0.18" stroke-linejoin="round">transduced</text>
<rect x="465.6" y="203.5" width="29.8" height="27.2" rx="0.8" fill="none" stroke="#3a3a3a" stroke-width="1.2"/>
<line x1="480.5" y1="203.5" x2="480.5" y2="230.7" stroke="#3a3a3a" stroke-width="1.1" />
<line x1="465.6" y1="217.4" x2="495.4" y2="217.4" stroke="#3a3a3a" stroke-width="1.1" />
<text x="468.2" y="210.9" font-size="5.8" text-anchor="start" fill="#222" font-weight="normal">T<tspan font-size="3.0" dy="1.9" fill="#555" stroke-width="0.1">CM</tspan></text>
<text x="488.2" y="212.0" font-size="5.4" text-anchor="middle" fill="#222" font-weight="normal" textLength="13.6" lengthAdjust="spacingAndGlyphs">Naive</text>
<text x="468.2" y="223.9" font-size="5.8" text-anchor="start" fill="#222" font-weight="normal">T<tspan font-size="3.0" dy="2.2" fill="#555" stroke-width="0.1">EM</tspan></text>
<text x="481.6" y="223.9" font-size="5.8" text-anchor="start" fill="#222" font-weight="normal">T<tspan font-size="2.6" dy="2.2" fill="#555" stroke-width="0.1">EMRA</tspan></text>
<text transform="translate(460.4,217.0) rotate(-90)" x="0" y="0" font-size="6.6" text-anchor="middle" fill="#222" textLength="12.8" lengthAdjust="spacingAndGlyphs">CCR7</text>
<text x="480.0" y="239.7" font-size="6.8" text-anchor="middle" fill="#222" font-weight="normal" textLength="21.6" lengthAdjust="spacingAndGlyphs">CD45RA</text>
<rect x="0.5" y="0.5" width="519" height="299" fill="none" stroke="#000" stroke-width="1.2"/>
</svg>
</body></html>
